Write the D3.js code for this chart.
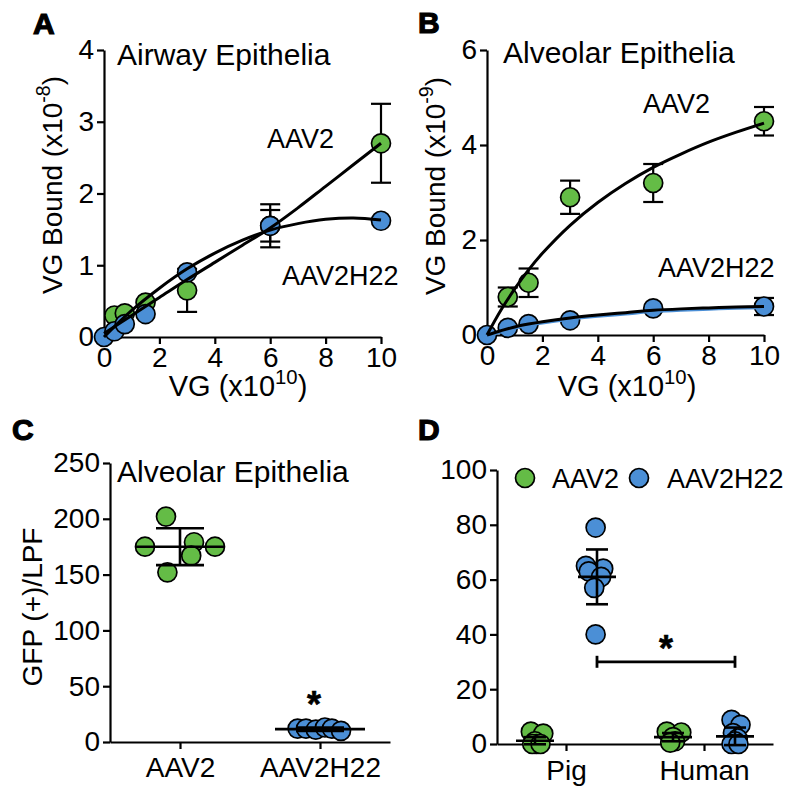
<!DOCTYPE html>
<html><head><meta charset="utf-8">
<script src="https://cdn.jsdelivr.net/npm/d3@7"></script>
<style>body{margin:0;background:#fff}svg{display:block}</style>
</head><body><svg id="c" width="798" height="797"></svg>
<script>
// ---------------- DATA ----------------
// Panel A (Airway Epithelia), VG Bound x10^-8
const aAav2Dose=[0.375,0.75,1.5,3,6,10];
const aAav2=[0.30,0.33,0.48,0.65,1.55,2.70];
const aAav2Err=[0,0,0,0.30,0.30,0.55];
const aH22Dose=[0,0.375,0.75,1.5,3,6,10];
const aH22=[0,0.08,0.18,0.32,0.90,1.55,1.62];
const aH22Err=[0,0,0,0,0,0.22,0];
const aFitDose=[0,1,2,3,4,5,6,7,8,9,10];
const aAav2Fit=[0.05,0.30,0.55,0.80,1.04,1.28,1.52,1.80,2.10,2.40,2.70];
const aH22Fit=[0,0.37,0.68,0.95,1.17,1.35,1.49,1.58,1.64,1.66,1.63];
const aYTicks=[0,1,2,3,4];
const xTicksAB=[0,2,4,6,8,10];

// Panel B (Alveolar Epithelia), VG Bound x10^-9
const bAav2Dose=[0.75,1.5,3,6,10];
const bAav2=[0.80,1.10,2.90,3.20,4.50];
const bAav2Err=[0.20,0.30,0.35,0.40,0.30];
const bH22Dose=[0,0.75,1.5,3,6,10];
const bH22=[0,0.15,0.23,0.31,0.56,0.60];
const bH22Err=[0,0,0,0,0,0.18];
const bFitDose=[0,0.5,1,1.5,2,3,4,5,6,7,8,9,10];
const bAav2Fit=[0,0.52,0.97,1.37,1.72,2.31,2.79,3.19,3.53,3.81,4.06,4.27,4.46];
const bH22Fit=[0,0.09,0.17,0.23,0.28,0.36,0.42,0.47,0.52,0.55,0.57,0.59,0.60];
const bYTicks=[0,2,4,6];

// Panel C, GFP(+)/LPF
const cGroups=["AAV2","AAV2H22"];
const cAav2=[202,175,179,175,167,152];
const cH22=[12,12,11,13,12,10];
const cMean=[175,11.5];
const cSd=[16.5,1.5];
const cYTicks=[0,50,100,150,200,250];

// Panel D
const dSpecies=["Pig","Human"];
const dSeries=["AAV2","AAV2H22"];
const dPigAav2=[4.5,3.8,1,0,0,0];
const dPigH22=[79,65,64,63,61,57,40];
const dHumanAav2=[4.5,4.2,2.5,1,0.5];
const dHumanH22=[8.8,7,4,2,1,0,0];
const dMeanAav2=[1.2,2.5], dSdAav2=[1.3,1.5];
const dMeanH22=[61,2.8], dSdH22=[10,3.2];
const dSigLevel=30;
const dYTicks=[0,20,40,60,80,100];

// ---------------- LAYOUT / STYLE ----------------
const GREEN="#64bc46", BLUE="#4b8fd6";
const FONT='"Liberation Sans", Arial, Helvetica, sans-serif';
const R=9.5;
// jitter offsets (fraction of category step)
const cJitA=[-0.10,-0.25,0.10,0.25,0.08,-0.09];
const cJitB=[-0.16,-0.10,-0.03,0.035,0.085,0.15];
const dJitPigA=[-0.03,0.06,0,0.01,-0.02,0.04];
const dJitPigB=[-0.01,-0.08,0.045,-0.06,0.03,-0.02,-0.01];
const dJitHumA=[-0.045,0.06,0,0.015,-0.02];
const dJitHumB=[-0.025,0.04,-0.015,0.02,0,-0.025,0.025];

const svg=d3.select("#c");
const fmt=d3.format("d");

function styleAxis(g){
  g.attr("font-family",FONT).attr("font-size",28);
  g.select(".domain").attr("stroke","#000").attr("stroke-width",2.2);
  g.selectAll(".tick line").attr("stroke","#000").attr("stroke-width",2.2);
  g.selectAll(".tick text").attr("fill","#000");
}
function txt(x,y,s,fs,opts={}){
  const t=svg.append("text").attr("x",x).attr("y",y).attr("font-family",FONT)
    .attr("font-size",fs).attr("fill","#000").text(s);
  if(opts.anchor) t.attr("text-anchor",opts.anchor);
  if(opts.bold) t.attr("font-weight","bold").attr("stroke","#000").attr("stroke-width",opts.sw||1.2);
  return t;
}
function supTitle(x,y,rot,base,sup,fs){
  const t=svg.append("text").attr("transform",`translate(${x},${y}) rotate(${rot})`)
    .attr("text-anchor","middle").attr("font-family",FONT).attr("font-size",fs).attr("fill","#000");
  t.append("tspan").text(base);
  t.append("tspan").attr("font-size",fs*0.7).attr("dy",-fs*0.42).text(sup);
  t.append("tspan").attr("dy",fs*0.42).text(")");
}
function points(g,xs,ys,x,y,color){
  g.selectAll(null).data(xs.map((d,i)=>[d,ys[i]])).enter().append("circle")
    .attr("cx",d=>x(d[0])).attr("cy",d=>y(d[1])).attr("r",R)
    .attr("fill",color).attr("stroke","#000").attr("stroke-width",1.7);
}
function errBars(g,xs,ys,es,x,y,cap){
  xs.forEach((d,i)=>{
    if(!es[i]) return;
    const cx=x(d), y1=y(ys[i]-es[i]), y2=y(ys[i]+es[i]);
    g.append("line").attr("x1",cx).attr("x2",cx).attr("y1",y1).attr("y2",y2);
    g.append("line").attr("x1",cx-cap).attr("x2",cx+cap).attr("y1",y1).attr("y2",y1);
    g.append("line").attr("x1",cx-cap).attr("x2",cx+cap).attr("y1",y2).attr("y2",y2);
  });
  g.attr("stroke","#000").attr("stroke-width",2.2);
}
function fitLine(xs,ys,x,y,color,w,dy){
  const line=d3.line().x(d=>x(d[0])).y(d=>y(d[1])+(dy||0)).curve(d3.curveCatmullRom);
  svg.append("path").attr("d",line(xs.map((d,i)=>[d,ys[i]])))
    .attr("fill","none").attr("stroke",color).attr("stroke-width",w);
}

// ---------------- PANEL A ----------------
{
  const x=d3.scaleLinear().domain([0,10]).range([104,381]);
  const y=d3.scaleLinear().domain([0,4]).range([337,50]);
  styleAxis(svg.append("g").attr("transform","translate(0,337)")
    .call(d3.axisBottom(x).tickValues(xTicksAB).tickFormat(fmt).tickSize(7).tickSizeOuter(0).tickPadding(3)));
  styleAxis(svg.append("g").attr("transform","translate(104,0)")
    .call(d3.axisLeft(y).tickValues(aYTicks).tickFormat(fmt).tickSize(7).tickSizeOuter(0).tickPadding(3)));
  errBars(svg.append("g"),aAav2Dose,aAav2,aAav2Err,x,y,10);
  errBars(svg.append("g"),aH22Dose,aH22,aH22Err,x,y,10);
  points(svg.append("g"),aAav2Dose,aAav2,x,y,GREEN);
  points(svg.append("g"),aH22Dose,aH22,x,y,BLUE);
  fitLine(aFitDose,aAav2Fit,x,y,"#000",3);
  fitLine(aFitDose,aH22Fit,x,y,"#000",3);
  txt(117,65,"Airway Epithelia",30);
  txt(267,148,"AAV2",27);
  txt(282,285,"AAV2H22",27);
  supTitle(238,396,0,"VG (x10","10",29);
  supTitle(62,185,-90,"VG Bound (x10","-8",28);
  txt(33,34,"A",30,{bold:true});
}

// ---------------- PANEL B ----------------
{
  const x=d3.scaleLinear().domain([0,10]).range([487,764]);
  const y=d3.scaleLinear().domain([0,6]).range([335,50]);
  styleAxis(svg.append("g").attr("transform","translate(0,335)")
    .call(d3.axisBottom(x).tickValues(xTicksAB).tickFormat(fmt).tickSize(7).tickSizeOuter(0).tickPadding(3)));
  styleAxis(svg.append("g").attr("transform","translate(487,0)")
    .call(d3.axisLeft(y).tickValues(bYTicks).tickFormat(fmt).tickSize(7).tickSizeOuter(0).tickPadding(3)));
  errBars(svg.append("g"),bAav2Dose,bAav2,bAav2Err,x,y,10);
  errBars(svg.append("g"),bH22Dose,bH22,bH22Err,x,y,10);
  points(svg.append("g"),bAav2Dose,bAav2,x,y,GREEN);
  points(svg.append("g"),bH22Dose,bH22,x,y,BLUE);
  fitLine(bFitDose,bAav2Fit,x,y,"#000",3);
  fitLine(bFitDose,bH22Fit,x,y,BLUE,3,1.3);
  fitLine(bFitDose,bH22Fit,x,y,"#000",3);
  txt(503,63,"Alveolar Epithelia",30);
  txt(643,113,"AAV2",27);
  txt(658,277,"AAV2H22",27);
  supTitle(627,396,0,"VG (x10","10",29);
  supTitle(445,186,-90,"VG Bound (x10","-9",28);
  txt(418,33,"B",30,{bold:true});
}

// ---------------- PANEL C ----------------
{
  const x=d3.scalePoint().domain(cGroups).range([110,390]).padding(0.5);
  const step=x.step();
  const y=d3.scaleLinear().domain([0,250]).range([742,463]);
  styleAxis(svg.append("g").attr("transform","translate(0,742)")
    .call(d3.axisBottom(x).tickSize(7).tickSizeOuter(0).tickPadding(8)));
  styleAxis(svg.append("g").attr("transform","translate(110,0)")
    .call(d3.axisLeft(y).tickValues(cYTicks).tickFormat(fmt).tickSize(7).tickSizeOuter(0).tickPadding(3)));
  const sets=[[cAav2,cJitA,GREEN],[cH22,cJitB,BLUE]];
  sets.forEach(([vals,jit,col],gi)=>{
    const cx=x(cGroups[gi]);
    svg.append("g").selectAll(null).data(vals).enter().append("circle")
      .attr("cx",(d,i)=>cx+jit[i]*step).attr("cy",d=>y(d)).attr("r",R)
      .attr("fill",col).attr("stroke","#000").attr("stroke-width",1.7);
  });
  const g=svg.append("g").attr("stroke","#000").attr("stroke-width",2.6);
  cGroups.forEach((c,i)=>{
    const cx=x(c);
    g.append("line").attr("x1",cx-45).attr("x2",cx+45).attr("y1",y(cMean[i])).attr("y2",y(cMean[i]));
    g.append("line").attr("x1",cx).attr("x2",cx).attr("y1",y(cMean[i]-cSd[i])).attr("y2",y(cMean[i]+cSd[i]));
    [cMean[i]-cSd[i],cMean[i]+cSd[i]].forEach(v=>
      g.append("line").attr("x1",cx-24).attr("x2",cx+24).attr("y1",y(v)).attr("y2",y(v)));
  });
  txt(117,482,"Alveolar Epithelia",30);
  txt(x("AAV2H22")-6,717,"*",36,{anchor:"middle",bold:true,sw:0.6});
  svg.append("text").attr("transform","translate(42,607) rotate(-90)").attr("text-anchor","middle")
    .attr("font-family",FONT).attr("font-size",28).attr("fill","#000").text("GFP (+)/LPF");
  txt(12,440,"C",30,{bold:true});
}

// ---------------- PANEL D ----------------
{
  const x=d3.scalePoint().domain(dSpecies).range([497,773]).padding(0.5);
  const sub=d3.scalePoint().domain(dSeries).range([-31,31]);
  const step=x.step();
  const y=d3.scaleLinear().domain([0,100]).range([744,470]);
  styleAxis(svg.append("g").attr("transform","translate(0,744)")
    .call(d3.axisBottom(x).tickSize(7).tickSizeOuter(0).tickPadding(9)));
  styleAxis(svg.append("g").attr("transform","translate(497,0)")
    .call(d3.axisLeft(y).tickValues(dYTicks).tickFormat(fmt).tickSize(7).tickSizeOuter(0).tickPadding(3)));
  const groups=[
    ["Pig","AAV2",dPigAav2,dJitPigA,GREEN,dMeanAav2[0],dSdAav2[0]],
    ["Human","AAV2",dHumanAav2,dJitHumA,GREEN,dMeanAav2[1],dSdAav2[1]],
    ["Pig","AAV2H22",dPigH22,dJitPigB,BLUE,dMeanH22[0],dSdH22[0]],
    ["Human","AAV2H22",dHumanH22,dJitHumB,BLUE,dMeanH22[1],dSdH22[1]]
  ];
  groups.forEach(([sp,se,vals,jit,col])=>{
    const cx=x(sp)+sub(se);
    svg.append("g").selectAll(null).data(vals).enter().append("circle")
      .attr("cx",(d,i)=>cx+jit[i]*step).attr("cy",d=>y(d)).attr("r",R)
      .attr("fill",col).attr("stroke","#000").attr("stroke-width",1.7);
  });
  const g=svg.append("g").attr("stroke","#000").attr("stroke-width",2.6);
  groups.forEach(([sp,se,vals,jit,col,m,s])=>{
    const cx=x(sp)+sub(se);
    g.append("line").attr("x1",cx-19).attr("x2",cx+19).attr("y1",y(m)).attr("y2",y(m));
    g.append("line").attr("x1",cx).attr("x2",cx).attr("y1",y(m-s)).attr("y2",y(m+s));
    [m-s,m+s].forEach(v=>g.append("line").attr("x1",cx-11).attr("x2",cx+11).attr("y1",y(v)).attr("y2",y(v)));
  });
  // significance bar
  const x1=x("Pig")+sub("AAV2H22"), x2=x("Human")+sub("AAV2H22"), ys=y(dSigLevel);
  const sg=svg.append("g").attr("stroke","#000").attr("stroke-width",2.8);
  sg.append("line").attr("x1",x1).attr("x2",x2).attr("y1",ys).attr("y2",ys);
  sg.append("line").attr("x1",x1).attr("x2",x1).attr("y1",ys-6).attr("y2",ys+6);
  sg.append("line").attr("x1",x2).attr("x2",x2).attr("y1",ys-6).attr("y2",ys+6);
  txt((x1+x2)/2,661,"*",36,{anchor:"middle",bold:true,sw:0.6});
  // legend
  const lg=[["AAV2",GREEN,525,552],["AAV2H22",BLUE,639,667]];
  lg.forEach(([n,c,cx,tx])=>{
    svg.append("circle").attr("cx",cx).attr("cy",478).attr("r",R)
      .attr("fill",c).attr("stroke","#000").attr("stroke-width",1.7);
    txt(tx,488,n,27);
  });
  txt(418,440,"D",30,{bold:true});
}
</script></body></html>
